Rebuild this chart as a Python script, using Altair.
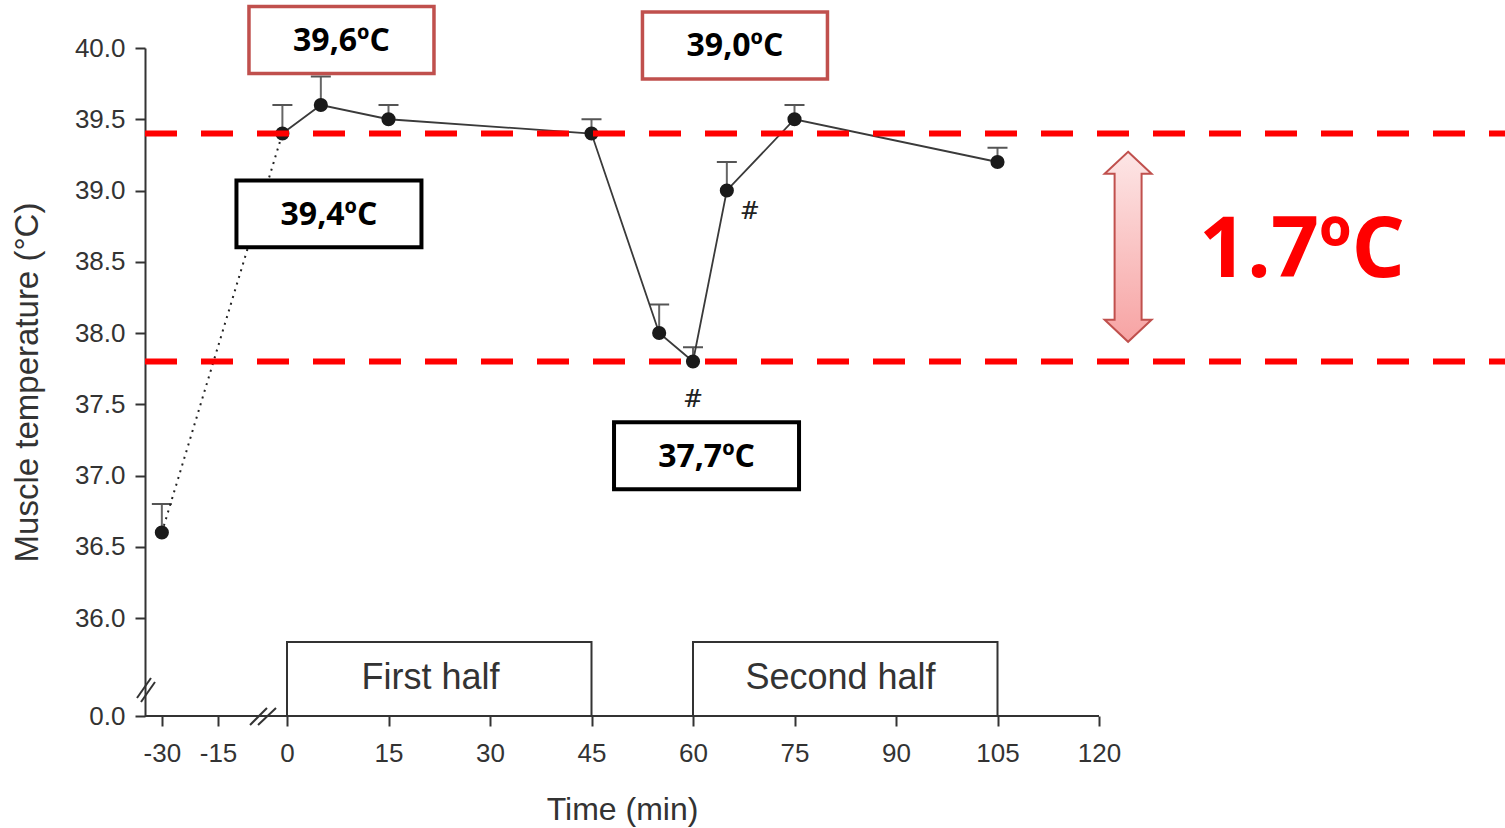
import altair as alt
import pandas as pd

# ---------------- data ----------------
time_min = [-30, -1, 5, 15, 45, 55, 60, 65, 75, 105]
temp_c = [36.6, 39.4, 39.6, 39.5, 39.4, 38.0, 37.8, 39.0, 39.5, 39.2]
temp_upper = [36.8, 39.6, 39.8, 39.6, 39.5, 38.2, 37.9, 39.2, 39.6, 39.3]

x_ticks = [-30, -15, 0, 15, 30, 45, 60, 75, 90, 105, 120]
y_ticks = [0.0, 36.0, 36.5, 37.0, 37.5, 38.0, 38.5, 39.0, 39.5, 40.0]

ref_levels = [39.4, 37.8]

half_start = [0, 60]
half_end = [45, 105]
half_label = ["First half", "Second half"]
half_label_x = [21.2, 81.8]
half_top = [27.2, 27.2]
half_label_y = [14.0, 14.0]

callout_text = ["39,6ºC", "39,0ºC", "39,4ºC", "37,7ºC"]
callout_x = [8.05, 66.2, 6.2, 62.0]
callout_y = [40.056, 40.018, 38.836, 37.139]
callout_border = ["#c0504d", "#c0504d", "#000000", "#000000"]
callout_bw = [3.5, 3.5, 4.0, 4.0]

hash_x = [68.4, 60.0]
hash_y = [38.85, 37.53]

delta_text = ["1.7ºC"]
delta_x = [150.0]
delta_y = [38.57]
arrow_x = [124.3]
arrow_y = [38.605]

# axis break marks (segments)
brk_x1 = [-36.64, -35.57, -8.04, -6.30]
brk_y1 = [6.61, 5.14, -3.31, -3.31]
brk_x2 = [-32.90, -31.83, -4.35, -2.39]
brk_y2 = [13.96, 12.49, 2.94, 2.94]

# ---------------- scales ----------------
X_DOMAIN = [-34.5, -15, 0, 180]
X_RANGE = [0, 73, 142, 1360]
Y_DOMAIN = [0, 36, 40]
Y_RANGE = [668, 570, 0]

xs = alt.Scale(domain=X_DOMAIN, range=X_RANGE, nice=False, zero=False)
ys = alt.Scale(domain=Y_DOMAIN, range=Y_RANGE, nice=False, zero=False)

FONT = "Liberation Sans"
GREY = "#333333"

main = pd.DataFrame({"t": time_min, "v": temp_c, "u": temp_upper})
pre = main.iloc[0:2]
match = main.iloc[1:]

base_x = alt.X("t:Q", scale=xs,
               axis=alt.Axis(values=x_ticks, title="Time (min)", domain=False, grid=False,
                             tickColor=GREY, tickWidth=2, tickSize=10,
                             labelFont=FONT, labelFontSize=26, labelColor=GREY,
                             labelExpr="'' + datum.value",
                             labelPadding=14, labelOverlap=False, labelFlush=False,
                             titleFont=FONT, titleFontSize=32, titleFontWeight="normal",
                             titleColor=GREY, titlePadding=28, titleX=477, titleAnchor="middle"))
base_y = alt.Y("v:Q", scale=ys,
               axis=alt.Axis(values=y_ticks, format=".1f", title="Muscle temperature (°C)",
                             grid=False, domainColor=GREY, domainWidth=2,
                             tickColor=GREY, tickWidth=2, tickSize=10,
                             labelFont=FONT, labelFontSize=26, labelColor=GREY,
                             labelPadding=10, labelOverlap=False, labelFlush=False,
                             titleFont=FONT, titleFontSize=33, titleFontWeight="normal",
                             titleColor=GREY, titlePadding=30))

# half boxes
halves = pd.DataFrame({"s": half_start, "e": half_end, "top": half_top,
                       "lab": half_label, "lx": half_label_x, "ly": half_label_y})
half_rect = alt.Chart(halves).mark_rect(fill="white", stroke=GREY, strokeWidth=2).encode(
    x=alt.X("s:Q", scale=xs), x2="e:Q",
    y=alt.Y("top:Q", scale=ys), y2=alt.datum(0))
half_text = alt.Chart(halves).mark_text(font=FONT, fontSize=36, color=GREY).encode(
    x=alt.X("lx:Q", scale=xs), y=alt.Y("ly:Q", scale=ys), text="lab:N")

# x axis line
axis_df = pd.DataFrame({"a": [X_DOMAIN[0]], "b": [120], "z": [0]})
x_axis_line = alt.Chart(axis_df).mark_rule(color=GREY, strokeWidth=2).encode(
    x=alt.X("a:Q", scale=xs), x2="b:Q", y=alt.Y("z:Q", scale=ys))

# break marks
brk = pd.DataFrame({"x1": brk_x1, "y1": brk_y1, "x2": brk_x2, "y2": brk_y2})
breaks = alt.Chart(brk).mark_rule(color=GREY, strokeWidth=2).encode(
    x=alt.X("x1:Q", scale=xs), y=alt.Y("y1:Q", scale=ys), x2="x2:Q", y2="y2:Q")

# error bars
err = alt.Chart(main).mark_rule(color="#666666", strokeWidth=2).encode(
    x=alt.X("t:Q", scale=xs), y=alt.Y("v:Q", scale=ys), y2="u:Q")
cap = alt.Chart(main).mark_point(shape="M-1,0H1", size=400, color="#555555",
                                 strokeWidth=2, filled=False, opacity=1).encode(
    x=alt.X("t:Q", scale=xs), y=alt.Y("u:Q", scale=ys))

line_pre = alt.Chart(pre).mark_line(color="#222222", strokeWidth=2, strokeDash=[2, 5]).encode(
    x=alt.X("t:Q", scale=xs), y=alt.Y("v:Q", scale=ys))
line_match = alt.Chart(match).mark_line(color="#3a3a3a", strokeWidth=1.8).encode(
    x=alt.X("t:Q", scale=xs), y=alt.Y("v:Q", scale=ys))
pts = alt.Chart(main).mark_point(filled=True, size=200, color="#1a1a1a", opacity=1).encode(
    x=alt.X("t:Q", scale=xs), y=alt.Y("v:Q", scale=ys))

# hash marks
hashes = pd.DataFrame({"x": hash_x, "y": hash_y, "s": ["#", "#"]})
hash_txt = alt.Chart(hashes).mark_text(font="DejaVu Serif", fontStyle="italic", fontSize=24,
                                       color="#222222").encode(
    x=alt.X("x:Q", scale=xs), y=alt.Y("y:Q", scale=ys), text="s:N")

# red dashed reference lines
refs = pd.DataFrame({"lvl": ref_levels, "a": [X_DOMAIN[0]] * 2, "b": [X_DOMAIN[-1]] * 2})
ref_lines = alt.Chart(refs).mark_rule(color="#ff0000", strokeWidth=6, strokeDash=[32, 24]).encode(
    x=alt.X("a:Q", scale=xs), x2="b:Q", y=alt.Y("lvl:Q", scale=ys))

# callout boxes
cal = pd.DataFrame({"x": callout_x, "y": callout_y, "txt": callout_text,
                    "bc": callout_border, "bw": callout_bw})
BOX_PATH = "M-1,-0.362H1V0.362H-1Z"
cal_box = alt.Chart(cal).mark_point(shape=BOX_PATH, size=185 * 185, filled=True,
                                    fill="white", opacity=1, fillOpacity=1).encode(
    x=alt.X("x:Q", scale=xs), y=alt.Y("y:Q", scale=ys),
    stroke=alt.Stroke("bc:N", scale=None), strokeWidth=alt.StrokeWidth("bw:Q", scale=None))
cal_txt = alt.Chart(cal).mark_text(font="Open Sans", fontWeight="bold", fontSize=32,
                                   color="#000000", dy=1).encode(
    x=alt.X("x:Q", scale=xs), y=alt.Y("y:Q", scale=ys), text="txt:N")

# double arrow
ARROW_PATH = ("M0,-1L0.247,-0.768L0.142,-0.768L0.142,0.768L0.247,0.768L0,1"
              "L-0.247,0.768L-0.142,0.768L-0.142,-0.768L-0.247,-0.768Z")
grad = alt.LinearGradient(gradient="linear",
                          stops=[alt.GradientStop(color="#fde6e6", offset=0),
                                 alt.GradientStop(color="#f7a3a3", offset=1)],
                          x1=0, x2=0, y1=0, y2=1)
arr = pd.DataFrame({"x": arrow_x, "y": arrow_y})
arrow = alt.Chart(arr).mark_point(shape=ARROW_PATH, size=190 * 190, filled=True, fill=grad,
                                  stroke="#c0504d", strokeWidth=2, opacity=1, fillOpacity=1).encode(
    x=alt.X("x:Q", scale=xs), y=alt.Y("y:Q", scale=ys))

dlt = pd.DataFrame({"x": delta_x, "y": delta_y, "txt": delta_text})
delta = alt.Chart(dlt).mark_text(font="Open Sans", fontWeight="bold", fontSize=84,
                                 color="#ff0000").encode(
    x=alt.X("x:Q", scale=xs), y=alt.Y("y:Q", scale=ys), text="txt:N")

axes_layer = alt.Chart(main).mark_point(opacity=0).encode(x=base_x, y=base_y)

chart = alt.layer(
    axes_layer, half_rect, half_text, x_axis_line, breaks,
    err, cap, line_pre, line_match, pts, hash_txt,
    ref_lines, cal_box, cal_txt, arrow, delta
).properties(
    width=1360, height=668,
    background="white",
    autosize=alt.AutoSizeParams(type="none"),
    padding={"left": 145, "top": 48, "right": 0, "bottom": 112},
).configure_view(strokeWidth=0, stroke="transparent").configure_axisX(
    domain=False, grid=False).configure_axisY(grid=False)

chart.save("out.html", embed_options={"renderer": "svg", "actions": False})
